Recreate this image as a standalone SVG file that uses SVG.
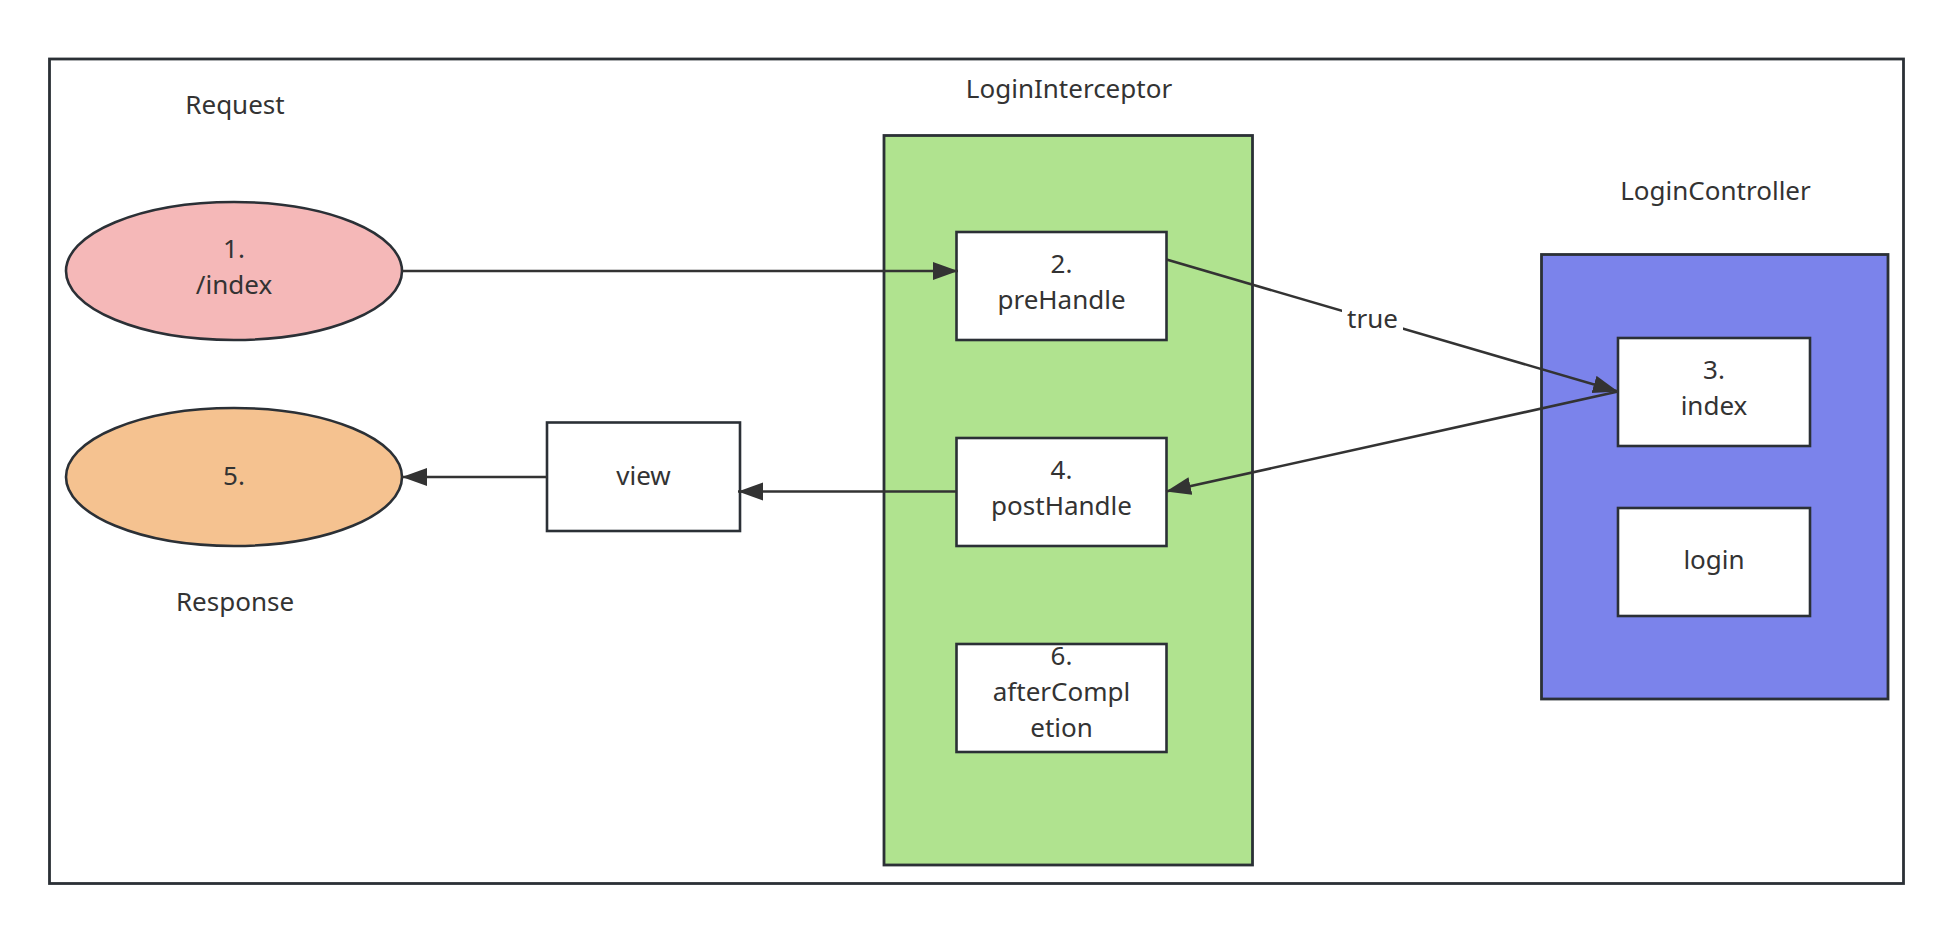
<svg xmlns="http://www.w3.org/2000/svg" width="1954" height="933" viewBox="0 0 1954 933">
<style>
  .box{fill:#ffffff;stroke:#2b3036;stroke-width:2.6}
  .frame{fill:none;stroke:#2b3036;stroke-width:2.8}
  .lbl{font-family:"Noto Sans","Open Sans",sans-serif;font-size:26px;fill:#333333;text-anchor:middle}
  .edge{fill:none;stroke:#333333;stroke-width:2.6}
</style>
<defs>
  <marker id="arr" markerUnits="userSpaceOnUse" markerWidth="26" markerHeight="20" refX="25" refY="9" orient="auto">
    <path d="M0,0 L25,9 L0,18 Z" fill="#333333"/>
  </marker>
</defs>
<rect width="1954" height="933" fill="#ffffff"/>
<g id="frame">
  <rect class="frame" x="49.5" y="59" width="1854" height="824.5"/>
</g>
<g id="request-label"><text class="lbl" x="235" y="114">Request</text></g>
<g id="response-label"><text class="lbl" x="235" y="611">Response</text></g>
<g id="interceptor">
  <rect x="884" y="135.5" width="368.5" height="729.5" fill="#b0e38f" stroke="#2b3036" stroke-width="2.8"/>
  <text class="lbl" x="1069" y="98">LoginInterceptor</text>
</g>
<g id="controller">
  <rect x="1541.5" y="254.5" width="346.5" height="444.5" fill="#7b83eb" stroke="#2b3036" stroke-width="2.8"/>
  <text class="lbl" x="1715.5" y="200">LoginController</text>
</g>
<g id="n1">
  <ellipse cx="234" cy="271" rx="168" ry="69" fill="#f5b8b8" stroke="#2b3036" stroke-width="2.6"/>
  <text class="lbl" x="234" y="258">1.<tspan x="234" dy="36">/index</tspan></text>
</g>
<g id="n5">
  <ellipse cx="234" cy="477" rx="168" ry="69" fill="#f5c290" stroke="#2b3036" stroke-width="2.6"/>
  <text class="lbl" x="234" y="485">5.</text>
</g>
<g id="view">
  <rect class="box" x="547" y="422.5" width="193" height="108.5"/>
  <text class="lbl" x="643.5" y="485">view</text>
</g>
<g id="preHandle">
  <rect class="box" x="956.5" y="232" width="210" height="108"/>
  <text class="lbl" x="1061.5" y="273">2.<tspan x="1061.5" dy="36">preHandle</tspan></text>
</g>
<g id="postHandle">
  <rect class="box" x="956.5" y="438" width="210" height="108"/>
  <text class="lbl" x="1061.5" y="479">4.<tspan x="1061.5" dy="36">postHandle</tspan></text>
</g>
<g id="afterCompletion">
  <rect class="box" x="956.5" y="644" width="210" height="108"/>
  <text class="lbl" x="1061.5" y="665">6.<tspan x="1061.5" dy="36">afterCompl</tspan><tspan x="1061.5" dy="36">etion</tspan></text>
</g>
<g id="index">
  <rect class="box" x="1618" y="338" width="192" height="108"/>
  <text class="lbl" x="1714" y="379">3.<tspan x="1714" dy="36">index</tspan></text>
</g>
<g id="login">
  <rect class="box" x="1618" y="508" width="192" height="108"/>
  <text class="lbl" x="1714" y="569">login</text>
</g>
<g id="connectors">
  <line class="edge" x1="402" y1="271" x2="958" y2="271" marker-end="url(#arr)"/>
  <line class="edge" x1="1166.5" y1="259.5" x2="1618" y2="391.5" marker-end="url(#arr)"/>
  <rect x="1342" y="302" width="61" height="36" fill="#ffffff"/>
  <text class="lbl" x="1372.5" y="328">true</text>
  <line class="edge" x1="1618" y1="391.5" x2="1166" y2="491.5" marker-end="url(#arr)"/>
  <line class="edge" x1="956.5" y1="491.5" x2="738" y2="491.5" marker-end="url(#arr)"/>
  <line class="edge" x1="547" y1="477" x2="402" y2="477" marker-end="url(#arr)"/>
</g>
</svg>
